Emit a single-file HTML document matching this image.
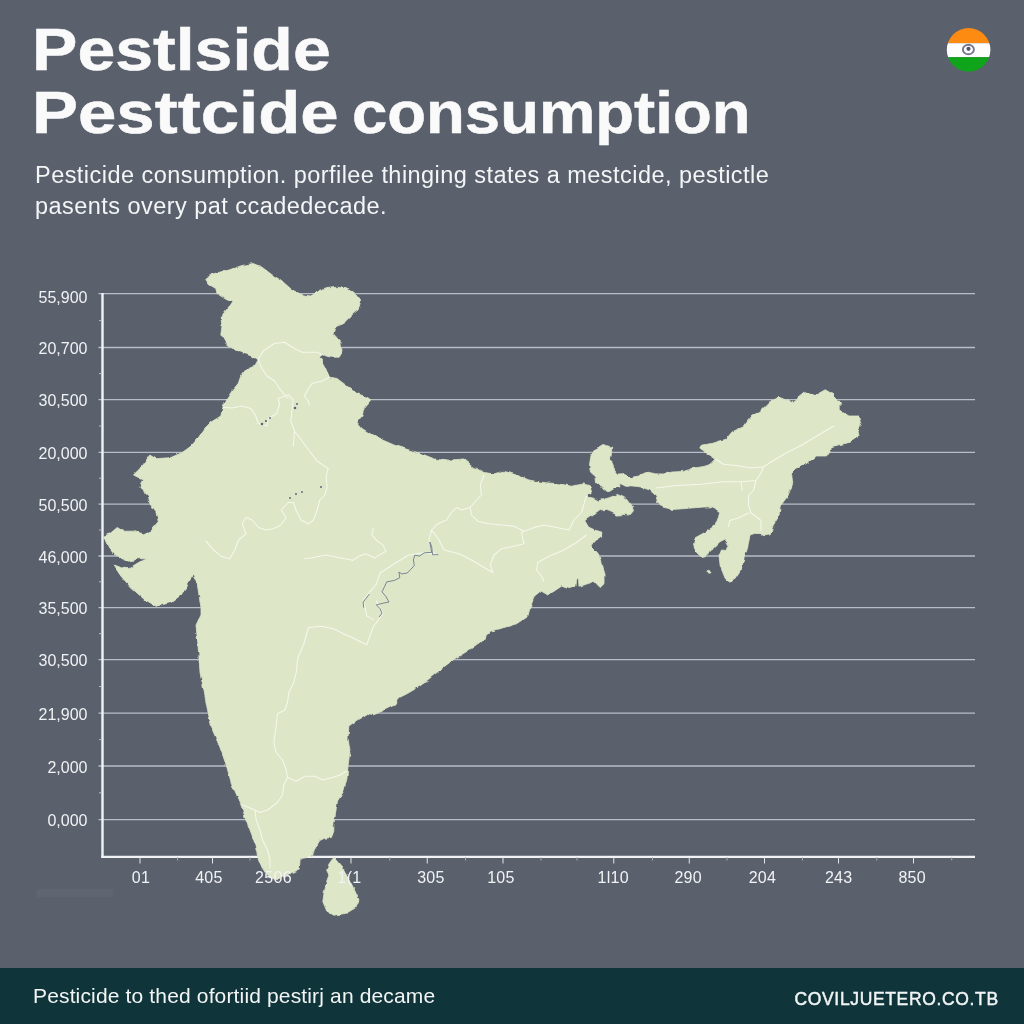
<!DOCTYPE html>
<html lang="en">
<head>
<meta charset="utf-8">
<title>Pesticide consumption</title>
<style>
html,body{margin:0;padding:0;}
body{width:1024px;height:1024px;overflow:hidden;background:#5a616d;font-family:"Liberation Sans",sans-serif;position:relative;}
.chart{position:absolute;left:0;top:0;}
.tick{font-family:"Liberation Sans",sans-serif;font-size:16px;fill:#f1f2f4;}
.t{position:absolute;white-space:nowrap;color:#fafafa;transform-origin:0 0;line-height:1;}
.h1{font-weight:bold;font-size:58.5px;left:36px;-webkit-text-stroke:0.5px #fafafa;}
.sub{font-size:23.5px;left:35px;color:#f4f5f6;letter-spacing:0.456px;}
.footer{position:absolute;left:0;top:968px;width:1024px;height:56px;background:#0f353b;}
.f1{font-size:21px;left:33px;top:984.5px;letter-spacing:0.15px;color:#f3f5f5;}
.f2{font-size:17.5px;font-weight:normal;-webkit-text-stroke:0.45px #f3f5f5;letter-spacing:0.65px;left:794.5px;top:991px;color:#f3f5f5;}
</style>
</head>
<body>
<svg class="chart" width="1024" height="1024" viewBox="0 0 1024 1024">
<line x1="98.5" y1="293.7" x2="975" y2="293.7" stroke="#b9bdc7" stroke-width="1.3"/>
<line x1="98.5" y1="347.5" x2="975" y2="347.5" stroke="#b9bdc7" stroke-width="1.3"/>
<line x1="98.5" y1="399.6" x2="975" y2="399.6" stroke="#b9bdc7" stroke-width="1.3"/>
<line x1="98.5" y1="452.3" x2="975" y2="452.3" stroke="#b9bdc7" stroke-width="1.3"/>
<line x1="98.5" y1="504.1" x2="975" y2="504.1" stroke="#b9bdc7" stroke-width="1.3"/>
<line x1="98.5" y1="556.0" x2="975" y2="556.0" stroke="#b9bdc7" stroke-width="1.3"/>
<line x1="98.5" y1="607.6" x2="975" y2="607.6" stroke="#b9bdc7" stroke-width="1.3"/>
<line x1="98.5" y1="659.7" x2="975" y2="659.7" stroke="#b9bdc7" stroke-width="1.3"/>
<line x1="98.5" y1="713.2" x2="975" y2="713.2" stroke="#b9bdc7" stroke-width="1.3"/>
<line x1="98.5" y1="766.0" x2="975" y2="766.0" stroke="#b9bdc7" stroke-width="1.3"/>
<line x1="98.5" y1="819.6" x2="975" y2="819.6" stroke="#b9bdc7" stroke-width="1.3"/>
<line x1="102.5" y1="293" x2="102.5" y2="858" stroke="#f2f3f5" stroke-width="2.4"/>
<line x1="99" y1="320.6" x2="102" y2="320.6" stroke="#b9bdc7" stroke-width="1"/>
<line x1="99" y1="373.6" x2="102" y2="373.6" stroke="#b9bdc7" stroke-width="1"/>
<line x1="99" y1="426.0" x2="102" y2="426.0" stroke="#b9bdc7" stroke-width="1"/>
<line x1="99" y1="478.2" x2="102" y2="478.2" stroke="#b9bdc7" stroke-width="1"/>
<line x1="99" y1="530.0" x2="102" y2="530.0" stroke="#b9bdc7" stroke-width="1"/>
<line x1="99" y1="581.8" x2="102" y2="581.8" stroke="#b9bdc7" stroke-width="1"/>
<line x1="99" y1="633.7" x2="102" y2="633.7" stroke="#b9bdc7" stroke-width="1"/>
<line x1="99" y1="686.5" x2="102" y2="686.5" stroke="#b9bdc7" stroke-width="1"/>
<line x1="99" y1="739.6" x2="102" y2="739.6" stroke="#b9bdc7" stroke-width="1"/>
<line x1="99" y1="792.8" x2="102" y2="792.8" stroke="#b9bdc7" stroke-width="1"/>
<line x1="101.3" y1="856.8" x2="975" y2="856.8" stroke="#f2f3f5" stroke-width="2.2"/>
<line x1="140" y1="857" x2="140" y2="863.5" stroke="#e3e5ea" stroke-width="1"/>
<line x1="212.5" y1="857" x2="212.5" y2="863.5" stroke="#e3e5ea" stroke-width="1"/>
<line x1="351" y1="857" x2="351" y2="863.5" stroke="#e3e5ea" stroke-width="1"/>
<line x1="427.25" y1="857" x2="427.25" y2="863.5" stroke="#e3e5ea" stroke-width="1"/>
<line x1="503" y1="857" x2="503" y2="863.5" stroke="#e3e5ea" stroke-width="1"/>
<line x1="613.75" y1="857" x2="613.75" y2="863.5" stroke="#e3e5ea" stroke-width="1"/>
<line x1="689.25" y1="857" x2="689.25" y2="863.5" stroke="#e3e5ea" stroke-width="1"/>
<line x1="764.5" y1="857" x2="764.5" y2="863.5" stroke="#e3e5ea" stroke-width="1"/>
<line x1="838.5" y1="857" x2="838.5" y2="863.5" stroke="#e3e5ea" stroke-width="1"/>
<line x1="913.5" y1="857" x2="913.5" y2="863.5" stroke="#e3e5ea" stroke-width="1"/>
<line x1="177.5" y1="857" x2="177.5" y2="860.5" stroke="#aeb2bc" stroke-width="0.9"/>
<line x1="250" y1="857" x2="250" y2="860.5" stroke="#aeb2bc" stroke-width="0.9"/>
<line x1="389.75" y1="857" x2="389.75" y2="860.5" stroke="#aeb2bc" stroke-width="0.9"/>
<line x1="465.5" y1="857" x2="465.5" y2="860.5" stroke="#aeb2bc" stroke-width="0.9"/>
<line x1="541" y1="857" x2="541" y2="860.5" stroke="#aeb2bc" stroke-width="0.9"/>
<line x1="577" y1="857" x2="577" y2="860.5" stroke="#aeb2bc" stroke-width="0.9"/>
<line x1="652.5" y1="857" x2="652.5" y2="860.5" stroke="#aeb2bc" stroke-width="0.9"/>
<line x1="727" y1="857" x2="727" y2="860.5" stroke="#aeb2bc" stroke-width="0.9"/>
<line x1="802.5" y1="857" x2="802.5" y2="860.5" stroke="#aeb2bc" stroke-width="0.9"/>
<line x1="876.75" y1="857" x2="876.75" y2="860.5" stroke="#aeb2bc" stroke-width="0.9"/>
<line x1="951.75" y1="857" x2="951.75" y2="860.5" stroke="#aeb2bc" stroke-width="0.9"/>
<text x="87.5" y="303.0" text-anchor="end" class="tick">55,900</text>
<text x="87.5" y="354.0" text-anchor="end" class="tick">20,700</text>
<text x="87.5" y="406.1" text-anchor="end" class="tick">30,500</text>
<text x="87.5" y="458.8" text-anchor="end" class="tick">20,000</text>
<text x="87.5" y="510.6" text-anchor="end" class="tick">50,500</text>
<text x="87.5" y="562.5" text-anchor="end" class="tick">46,000</text>
<text x="87.5" y="614.1" text-anchor="end" class="tick">35,500</text>
<text x="87.5" y="666.2" text-anchor="end" class="tick">30,500</text>
<text x="87.5" y="719.7" text-anchor="end" class="tick">21,900</text>
<text x="87.5" y="772.5" text-anchor="end" class="tick">2,000</text>
<text x="87.5" y="826.1" text-anchor="end" class="tick">0,000</text>
<defs><filter id="rough" x="-2%" y="-2%" width="104%" height="104%"><feTurbulence type="fractalNoise" baseFrequency="0.14" numOctaves="2" seed="7" result="n"/><feDisplacementMap in="SourceGraphic" in2="n" scale="3.6" xChannelSelector="R" yChannelSelector="G"/></filter></defs>
<g fill="#dde6c6" stroke="#dde6c6" stroke-width="0.8" stroke-linejoin="round" filter="url(#rough)">
<path d="M205.8,279.8 L209.5,274.8 L219.5,272.2 L229.5,269.8 L242.0,265.5 L253.2,263.5 L262.0,267.2 L272.0,274.8 L282.0,281.0 L292.0,289.8 L302.0,294.8 L309.5,296.0 L317.0,292.2 L327.0,288.5 L337.0,287.2 L347.0,288.5 L355.8,294.8 L360.8,301.0 L358.2,309.8 L352.0,314.8 L344.5,322.2 L334.5,328.5 L333.2,333.5 L340.8,342.2 L342.0,351.0 L338.2,357.2 L330.8,357.2 L322.0,354.8 L319.5,357.2 L324.5,366.0 L329.5,377.2 L337.0,378.5 L347.0,386.0 L357.0,393.5 L367.0,397.2 L370.8,399.8 L364.5,407.2 L362.0,416.0 L357.0,422.2 L362.0,428.5 L372.0,434.8 L382.0,439.8 L394.0,445.0 L409.0,450.0 L421.5,453.8 L434.0,458.8 L449.0,461.2 L464.0,460.0 L471.5,466.2 L484.0,472.5 L494.0,473.8 L504.0,471.2 L516.5,475.0 L529.0,480.0 L544.0,482.5 L559.0,483.8 L571.5,486.2 L583.5,483.9 L589.8,485.8 L591.6,492.0 L588.5,494.5 L588.5,497.0 L593.5,498.2 L598.5,500.8 L604.8,498.9 L612.2,497.0 L618.5,493.9 L624.8,497.0 L628.5,502.0 L632.2,507.0 L633.5,510.8 L629.8,515.1 L623.5,514.5 L617.2,515.1 L611.0,512.0 L606.0,510.1 L602.2,510.8 L601.0,508.9 L594.8,513.2 L588.5,517.6 L584.8,520.8 L588.5,527.0 L594.8,530.1 L601.6,532.0 L602.2,535.8 L597.2,538.2 L593.5,542.0 L591.0,545.8 L594.8,550.8 L598.5,555.1 L600.4,560.0 L601.5,565.0 L604.0,575.0 L604.0,583.8 L600.2,587.5 L594.0,581.2 L584.0,585.0 L579.0,586.2 L578.5,578.8 L576.5,578.8 L576.0,586.2 L569.0,588.8 L561.5,586.2 L554.0,591.2 L547.8,595.0 L541.5,591.2 L534.0,597.5 L530.2,607.5 L527.8,616.2 L516.5,623.8 L504.0,627.5 L491.5,631.2 L480.0,642.2 L467.5,651.0 L455.0,658.5 L445.0,666.0 L432.5,676.0 L420.0,686.0 L407.5,693.5 L397.5,698.5 L395.0,704.8 L382.5,711.0 L373.8,714.8 L367.5,713.5 L357.5,719.8 L348.8,726.0 L348.0,738.5 L350.0,751.0 L348.0,766.0 L347.0,778.5 L343.8,791.0 L337.5,801.0 L335.0,816.0 L333.8,825.0 L333.8,831.2 L331.4,837.5 L324.4,838.3 L319.7,840.6 L314.2,850.0 L312.7,856.2 L300.2,858.6 L299.4,868.8 L286.9,875.0 L277.5,879.7 L271.2,878.1 L265.8,873.4 L261.9,867.2 L258.0,857.8 L253.8,840.0 L246.2,820.0 L240.0,802.5 L231.2,782.5 L226.2,765.0 L220.0,747.5 L212.5,730.0 L207.5,710.0 L203.8,690.0 L200.0,672.5 L198.8,655.0 L197.5,640.0 L196.0,625.0 L201.0,615.0 L201.0,607.5 L198.5,592.5 L197.2,582.5 L192.2,575.0 L187.2,586.2 L181.0,595.0 L171.0,602.5 L156.0,606.2 L143.5,598.8 L131.0,587.5 L121.0,576.2 L113.5,565.0 L119.8,567.5 L128.5,568.8 L138.5,562.5 L147.2,558.8 L138.5,558.8 L128.5,561.2 L116.0,556.2 L108.5,547.5 L103.5,536.2 L109.8,533.8 L117.2,527.5 L123.5,531.2 L133.5,531.2 L143.5,533.8 L152.2,530.0 L158.5,522.5 L156.0,512.5 L149.8,503.8 L148.5,496.2 L139.8,487.5 L143.5,480.0 L133.5,475.0 L142.2,466.2 L149.8,455.0 L156.0,458.8 L171.0,457.5 L182.2,452.5 L191.0,446.2 L198.5,437.5 L204.5,428.5 L210.8,422.2 L220.8,416.0 L223.2,406.0 L227.0,398.5 L232.0,391.0 L238.2,383.5 L240.8,376.0 L245.8,369.8 L254.5,366.0 L258.2,359.8 L254.5,357.2 L244.5,353.5 L234.5,349.8 L225.8,343.5 L220.8,334.8 L222.0,326.0 L220.8,317.2 L224.5,312.2 L229.5,306.0 L232.0,302.2 L224.5,298.5 L217.0,293.5 L215.8,288.5 L209.5,284.8Z"/>
<path d="M602.9,444.5 L611.6,447.0 L611.6,453.2 L610.4,459.5 L613.5,465.8 L614.8,470.8 L618.5,475.1 L624.8,474.5 L631.0,477.6 L638.5,475.8 L647.2,472.0 L656.0,473.9 L663.5,473.9 L672.2,472.0 L683.5,471.4 L693.5,468.2 L704.0,466.4 L711.0,464.2 L716.0,459.2 L708.5,454.2 L699.8,448.0 L701.0,445.5 L713.5,443.0 L726.0,439.2 L732.2,431.8 L743.5,426.8 L751.0,416.8 L761.0,410.5 L769.8,401.8 L779.0,397.2 L791.5,402.2 L804.0,392.2 L814.0,396.0 L825.2,389.8 L834.0,394.8 L840.2,403.5 L840.2,411.0 L849.0,416.0 L859.0,416.0 L861.5,422.2 L857.8,429.8 L859.0,436.0 L850.2,442.2 L839.0,444.8 L831.5,448.5 L826.5,456.0 L816.5,456.0 L806.5,463.5 L796.5,468.5 L791.5,473.5 L792.8,483.5 L787.8,496.0 L780.2,506.0 L779.0,516.0 L772.8,526.0 L770.2,534.8 L764.0,536.0 L759.0,532.2 L750.2,534.8 L747.8,546.0 L744.0,558.5 L741.5,568.5 L736.5,576.0 L731.5,583.5 L725.2,578.5 L720.2,566.0 L719.0,556.0 L721.5,550.0 L726.0,550.5 L728.5,544.2 L724.8,539.2 L719.8,541.8 L713.5,548.0 L706.0,555.5 L701.0,556.8 L696.0,551.8 L693.5,544.2 L694.8,538.0 L706.0,531.8 L714.8,525.5 L719.8,513.0 L712.2,506.8 L704.0,507.0 L688.5,508.2 L673.5,509.5 L662.2,507.0 L657.2,500.8 L656.0,495.8 L649.8,490.1 L641.0,487.0 L631.0,485.8 L626.0,486.4 L619.8,483.2 L619.8,487.0 L613.5,488.9 L608.5,492.0 L603.5,489.5 L599.8,484.5 L596.6,482.0 L596.0,477.0 L590.4,472.0 L589.5,464.5 L591.0,455.8 L594.8,449.5Z"/>
<path d="M334.5,857.0 L341.6,865.6 L347.8,876.6 L354.0,889.0 L359.0,900.0 L355.6,907.8 L346.2,913.3 L333.8,915.2 L326.7,911.0 L322.8,901.6 L324.4,890.6 L326.7,881.2 L329.0,875.0 L326.7,870.3 L329.0,864.0 L332.2,859.4Z"/>
<circle cx="708.5" cy="571.8" r="1.5"/>
</g>
<path d="M258.2,359.8 L263.2,351.0 L274.5,343.5 L284.5,342.2 L294.5,348.5 L302.0,352.2 L317.0,352.2 L322.0,354.8 M258.2,359.8 L262.0,368.5 L267.0,376.0 L274.5,381.0 L279.5,388.5 L284.5,394.8 L288.2,398.5 M329.5,377.2 L322.0,381.0 L312.0,383.5 L307.0,391.0 L304.5,396.0 L308.2,401.0 L309.5,404.8 M223.2,407.2 L232.0,408.0 L242.0,406.0 L250.8,408.5 L255.8,416.0 L258.2,423.5 L267.0,426.0 L268.2,418.5 L277.0,413.5 L279.5,403.5 L278.2,398.5 L288.2,394.8 M288.2,394.8 L293.2,399.8 L292.0,411.0 L290.8,421.0 L294.5,431.0 L302.0,441.0 L309.5,451.0 L317.0,461.0 L328.2,468.5 L326.0,477.5 L327.2,486.2 L324.8,495.0 L319.8,500.0 L317.2,510.0 L313.5,520.0 L308.5,523.8 L301.0,520.0 L296.0,510.0 L293.5,502.5 L288.5,502.5 L281.0,510.0 L286.0,517.5 L281.0,525.0 L273.5,528.8 L266.0,530.0 L258.5,527.5 L252.2,520.0 L246.0,517.5 L242.2,523.8 L246.0,533.8 L238.5,540.0 L234.8,550.0 L229.8,558.8 M294.5,431.0 L293.2,446.0 M206.0,541.2 L213.5,550.0 L221.0,556.2 L229.8,558.8 M304.8,558.8 L313.5,557.5 L326.0,555.0 L338.5,557.5 L352.0,560.0 M352.0,637.5 L346.0,635.0 L333.5,628.8 L321.0,626.2 L308.5,627.5 L303.5,645.0 L298.5,656.0 L297.5,660.0 L296.2,672.5 L293.8,682.5 L288.8,692.5 L287.5,702.5 L285.0,710.0 L277.5,713.8 L276.2,725.0 L275.0,735.0 L273.8,742.5 L276.2,752.5 L282.5,760.0 L286.2,770.0 L287.5,777.5 L296.2,781.2 L305.0,776.2 L315.0,776.2 L322.5,780.0 L332.5,777.5 L340.0,775.0 L346.2,771.2 M287.5,777.5 L283.8,785.0 L282.5,795.0 L277.5,802.5 L267.5,810.0 L260.0,812.5 L255.0,810.0 L256.2,820.0 L260.0,830.0 L262.5,840.0 L267.5,850.0 L270.0,860.0 L270.0,867.5 M242.5,805.0 L255.0,810.0 M484.0,475.0 L480.2,485.0 L481.5,495.0 L476.5,500.0 L470.2,507.5 L471.5,515.0 L477.8,521.2 L489.0,523.8 L501.5,525.0 L514.0,526.2 L524.0,531.2 L534.0,527.5 L544.0,525.0 L556.5,527.5 L569.0,530.0 L574.0,520.0 L581.5,512.5 L585.2,500.0 L586.5,496.2 M470.2,507.5 L461.5,510.0 L456.5,507.5 L451.5,512.5 L446.5,520.0 L437.8,523.8 L431.5,530.0 L429.0,540.0 L431.5,550.0 L436.5,555.0 L424.0,552.5 L408.2,555.2 L393.2,564.5 L380.1,573.0 L376.4,584.2 L369.8,591.8 L363.2,600.2 L367.0,616.1 L373.5,619.9 M431.5,530.0 L439.0,540.0 L444.0,550.0 L459.0,553.8 L471.5,560.0 L484.0,567.5 L492.8,572.5 L490.2,565.0 L494.0,555.0 L501.5,548.8 L514.0,546.2 L524.0,543.8 L521.5,532.5 L524.0,531.2 M586.5,535.0 L576.5,542.5 L564.0,550.0 L549.0,556.2 L537.8,562.5 L536.5,570.0 L541.5,576.2 L544.0,581.2 M716.0,459.2 L723.5,464.2 L736.0,465.5 L751.0,468.0 L763.5,466.8 L773.5,460.5 L786.0,453.0 L801.0,445.5 L813.5,438.0 L826.0,430.5 L834.0,426.0 M656.0,488.0 L676.0,485.5 L701.0,484.2 L723.5,481.8 L741.0,481.8 L756.0,480.5 L761.0,473.0 L763.5,466.8 M756.0,480.5 L753.5,490.5 L748.5,495.5 L748.5,505.5 L751.0,513.0 L761.0,520.5 L761.0,530.5 M741.0,481.8 L742.2,490.5 M748.5,513.0 L738.5,518.0 L729.8,520.5 L728.5,526.8 M352.0,560.8 L359.5,556.1 L366.0,553.8 L374.5,558.0 L385.8,551.4 L382.9,544.9 L376.4,540.2 L371.7,534.6 L373.5,528.0 M352.0,637.5 L366.8,644.7 L373.2,626.7 L382.9,613.8 L376.4,600.9" fill="none" stroke="#f7f9f0" stroke-width="1.05" stroke-linejoin="round" stroke-linecap="round" opacity="0.9"/>
<path d="M438.2,554.7 L432.6,554.7 L431.7,546.8 L429.8,542.0 L431.7,552.4 L424.2,552.8 L419.5,556.1 L414.8,555.2 L413.4,559.9 L414.3,565.5 L411.0,569.2 L407.3,573.0 L401.7,573.9 L398.9,572.0 L399.8,577.7 L394.2,580.5 L386.7,581.9 L384.8,586.1 L382.0,591.8 L385.8,596.4 L389.0,602.0 L383.9,603.0 L376.4,604.9 L380.1,608.6 L382.0,613.3 L379.2,617.0 M369.3,594.1 L363.2,602.0 L363.7,607.7" fill="none" stroke="#66758a" stroke-width="1" stroke-linejoin="round" opacity="0.85"/>
<circle cx="262" cy="424" r="1.3" fill="#5d6675"/>
<circle cx="266" cy="421" r="1.1" fill="#5d6675"/>
<circle cx="270" cy="418" r="0.9" fill="#5d6675"/>
<circle cx="295" cy="408" r="1.3" fill="#5d6675"/>
<circle cx="297" cy="404" r="1.0" fill="#5d6675"/>
<circle cx="290" cy="498" r="0.9" fill="#5d6675"/>
<circle cx="296" cy="494" r="1.0" fill="#5d6675"/>
<circle cx="302" cy="492" r="0.9" fill="#5d6675"/>
<circle cx="321" cy="487" r="1.0" fill="#5d6675"/>
<text x="141" y="883" text-anchor="middle" class="tick" letter-spacing="0.35">01</text>
<text x="209" y="883" text-anchor="middle" class="tick" letter-spacing="0.35">405</text>
<text x="273.5" y="883" text-anchor="middle" class="tick" letter-spacing="0.35">2506</text>
<text x="349.5" y="883" text-anchor="middle" class="tick" letter-spacing="0.35">1(1</text>
<text x="431" y="883" text-anchor="middle" class="tick" letter-spacing="0.35">305</text>
<text x="501" y="883" text-anchor="middle" class="tick" letter-spacing="0.35">105</text>
<text x="613.25" y="883" text-anchor="middle" class="tick" letter-spacing="0.35">1l10</text>
<text x="688.25" y="883" text-anchor="middle" class="tick" letter-spacing="0.35">290</text>
<text x="762.5" y="883" text-anchor="middle" class="tick" letter-spacing="0.35">204</text>
<text x="838.75" y="883" text-anchor="middle" class="tick" letter-spacing="0.35">243</text>
<text x="912.25" y="883" text-anchor="middle" class="tick" letter-spacing="0.35">850</text>
<rect x="37" y="889" width="76" height="8" fill="#ffffff" opacity="0.035"/>
<g>
<clipPath id="fc"><circle cx="968.6" cy="49.8" r="21.8"/></clipPath>
<g clip-path="url(#fc)">
<rect x="940" y="20" width="60" height="23.2" fill="#fd8b12"/>
<rect x="940" y="43.2" width="60" height="14" fill="#fdfdfd"/>
<rect x="940" y="57.2" width="60" height="20" fill="#10a41a"/>
</g>
<ellipse cx="968.4" cy="49.5" rx="5.5" ry="4.8" fill="none" stroke="#74788f" stroke-width="1.9"/>
<circle cx="968.5" cy="48.8" r="2.1" fill="#55536c"/>
</g>
</svg>
<div class="t h1" id="h1a" style="left:32px;top:20.5px;transform:scaleX(1.163)">Pestlside</div>
<div class="t h1" id="h1b" style="left:32px;top:83.5px;transform:scaleX(1.179)">Pesttcide</div>
<div class="t h1" id="h1c" style="left:352px;top:83.5px;transform:scaleX(1.085)">consumption</div>
<div class="t sub" id="s1" style="top:163.5px;">Pesticide consumption. porfilee thinging states a mestcide, pestictle</div>
<div class="t sub" id="s2" style="top:195px;">pasents overy pat ccadedecade.</div>
<div class="footer"></div>
<div class="t f1" id="f1">Pesticide to thed ofortiid pestirj an decame</div>
<div class="t f2" id="f2">COVILJUETERO.CO.TB</div>
</body>
</html>
